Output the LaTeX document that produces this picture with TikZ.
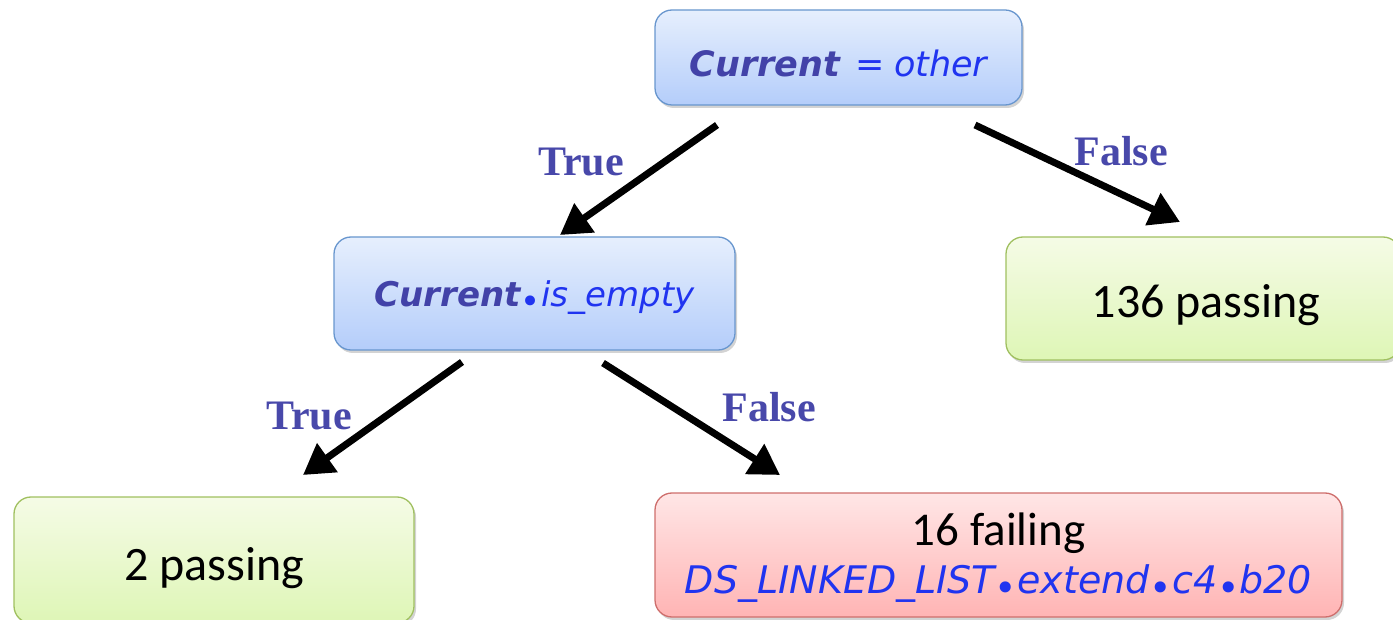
\documentclass[tikz,border=0pt]{standalone}
\usepackage{fontspec}
\setmainfont{Carlito}
\newfontfamily\codefont{DejaVu Sans}
\newfontfamily\labelfont{Liberation Serif}
\usetikzlibrary{arrows.meta,shadows}

\definecolor{kwcol}{RGB}{66,66,168}
\definecolor{idcol}{RGB}{32,52,240}
\definecolor{lblcol}{RGB}{72,72,170}
\definecolor{bluetop}{RGB}{230,239,253}
\definecolor{bluebot}{RGB}{180,205,250}
\definecolor{blueline}{RGB}{104,150,206}
\definecolor{greentop}{RGB}{245,251,230}
\definecolor{greenbot}{RGB}{222,246,182}
\definecolor{greenline}{RGB}{160,192,96}
\definecolor{redtop}{RGB}{255,230,230}
\definecolor{redbot}{RGB}{255,180,180}
\definecolor{redline}{RGB}{206,110,108}

\tikzset{
  box/.style={rounded corners=17pt, line width=1.3pt, anchor=center, align=center,
    drop shadow={shadow xshift=2pt, shadow yshift=-3pt, opacity=0.35}},
  testbox/.style={box, draw=blueline, top color=bluetop, bottom color=bluebot},
  passbox/.style={box, draw=greenline, top color=greentop, bottom color=greenbot,
    font=\fontsize{48}{56}\selectfont},
  failbox/.style={box, draw=redline, top color=redtop, bottom color=redbot},
  branch/.style={line width=7pt, -{Triangle[length=30pt,width=34pt]}},
  edgelabel/.style={text=lblcol, font=\labelfont\bfseries\fontsize{42}{48}\selectfont},
}
\newcommand{\kw}[1]{\textcolor{kwcol}{\codefont\bfseries\itshape #1}}
\newcommand{\idn}[1]{\textcolor{idcol}{\codefont\itshape #1}}
% round member-access dot sitting on the baseline
\newcommand{\dotsep}{\textcolor{idcol}{\raisebox{-0.2em}{\codefont •}}}
% move text ink down without changing the node's size
\newcommand{\sinktext}[2]{\raisebox{-#1}[\height][\depth]{#2}}

\begin{document}
\begin{tikzpicture}[x=1pt,y=-1pt]
  \useasboundingbox (0,0) rectangle (1393,620);
  \clip (0,0) rectangle (1393,620);

  % decision nodes
  \node[testbox, minimum width=367pt, minimum height=95pt,
        font=\fontsize{35}{40}\selectfont] (root) at (838.5,57.5)
        {\sinktext{6pt}{\kw{Current}\hspace{0.45em}\idn{=\hspace{0.25em}other}}};
  \node[testbox, minimum width=401pt, minimum height=113pt,
        font=\fontsize{34}{40}\selectfont] (empty) at (534.5,293.5)
        {\sinktext{4pt}{\kw{Current}\dotsep\idn{is\_empty}}};

  % outcome nodes
  \node[passbox, minimum width=394pt, minimum height=123pt] (pass136) at (1203,298.5)
        {\sinktext{7pt}{\hspace{6pt}136 passing}};
  \node[passbox, minimum width=400pt, minimum height=126pt] (pass2) at (214,560)
        {\sinktext{8pt}{2 passing}};
  \node[failbox, minimum width=687pt, minimum height=124pt] (fail) at (998.5,555)
        {\fontsize{47}{47}\selectfont 16 failing\\[4pt]
         {\fontsize{38}{40}\selectfont\sinktext{6pt}{\idn{DS\_LINKED\_LIST}\dotsep\idn{extend}\dotsep\idn{c4}\dotsep\idn{b20}}}};

  % arrow end points
  \coordinate (r1) at (717,125);
  \coordinate (r1e) at (560,235);
  \coordinate (r2) at (975,125);
  \coordinate (r2e) at (1180,222);
  \coordinate (e1) at (462,362);
  \coordinate (e1e) at (303,475);
  \coordinate (e2) at (603,363);
  \coordinate (e2e) at (780,475);

  \draw[branch] (r1) -- (r1e);
  \draw[branch] (r2) -- (r2e);
  \draw[branch] (e1) -- (e1e);
  \draw[branch] (e2) -- (e2e);

  % branch labels
  \node[edgelabel] (lt1) at (581,162) {True};
  \node[edgelabel] (lf1) at (1121,151) {False};
  \node[edgelabel] (lt2) at (309,416) {True};
  \node[edgelabel] (lf2) at (769,407) {False};
\end{tikzpicture}
\end{document}
